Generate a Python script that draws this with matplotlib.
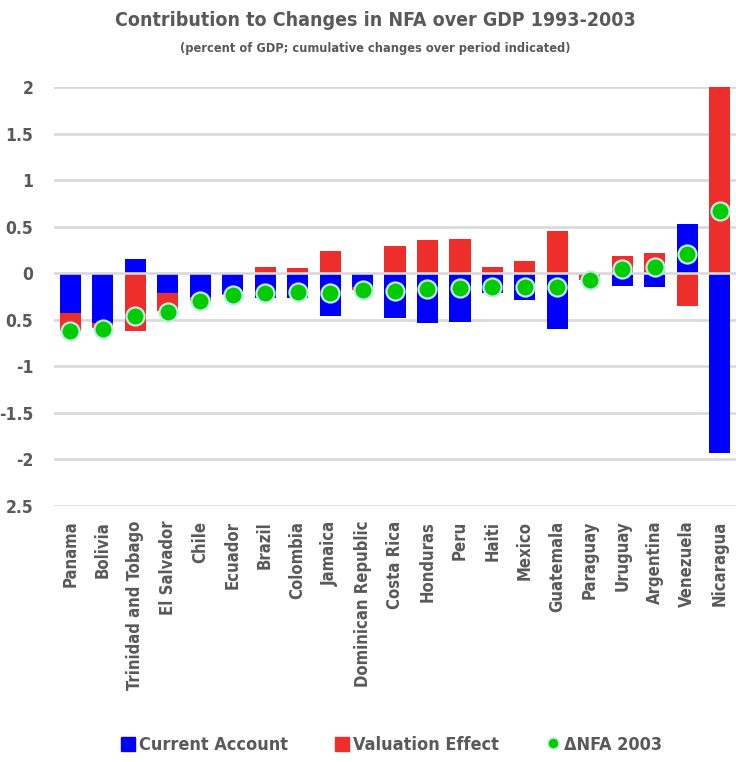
import numpy as np
import matplotlib
matplotlib.use("Agg")
import matplotlib.pyplot as plt
from matplotlib.lines import Line2D
from matplotlib.patches import Patch

plt.rcParams['font.family'] = ['DejaVu Sans']
plt.rcParams['font.stretch'] = 'condensed'

countries = ["Panama", "Bolivia", "Trinidad and Tobago", "El Salvador", "Chile",
             "Ecuador", "Brazil", "Colombia", "Jamaica", "Dominican Republic",
             "Costa Rica", "Honduras", "Peru", "Haiti", "Mexico", "Guatemala",
             "Paraguay", "Uruguay", "Argentina", "Venezuela", "Nicaragua"]
current_account = [-0.43, -0.54, 0.15, -0.21, -0.26, -0.23, -0.27, -0.27, -0.46, -0.15,
                   -0.48, -0.54, -0.53, -0.21, -0.29, -0.60, 0.0, -0.135, -0.15, 0.53, -1.94]
valuation = [-0.19, -0.05, -0.62, -0.20, -0.04, -0.01, 0.06, 0.05, 0.24, -0.03,
             0.29, 0.36, 0.37, 0.07, 0.13, 0.45, -0.08, 0.18, 0.215, -0.35, 2.6]
nfa_change = [-0.62, -0.60, -0.46, -0.42, -0.30, -0.24, -0.21, -0.20, -0.21, -0.18,
              -0.19, -0.17, -0.16, -0.15, -0.15, -0.15, -0.07, 0.04, 0.07, 0.20, 0.67]
ytick_vals = [2, 1.5, 1, 0.5, 0, -0.5, -1, -1.5, -2, -2.5]
ytick_text = ["2", "1.5", "1", "0.5", "0", "0.5", "-1", "-1.5", "-2", "2.5"]

BLUE = "#0000FF"
RED = "#EE2E2A"
GREEN = "#00CC00"
GRAY = "#595959"
GRID = "#D9D9D9"

ca = np.array(current_account)
ve = np.array(valuation)
x = np.arange(len(countries))
# valuation stacks on current account only when both share a sign
ve_bottom = np.where(np.sign(ve) == np.sign(ca), ca, 0.0)

fig = plt.figure(figsize=(7.36, 7.62), dpi=100)
ax = fig.add_axes([0.0734, 0.3366, 0.9266, 0.5492])

for v in ytick_vals:
    if v != 0:
        ax.axhline(v, color=GRID, lw=1.9, zorder=0)

ax.bar(x, ca, width=0.65, color=BLUE, zorder=2, label="Current Account")
ax.bar(x, ve, width=0.65, bottom=ve_bottom, color=RED, zorder=2, label="Valuation Effect")
ax.axhline(0, color=GRID, lw=1.9, zorder=3)
ax.plot(x, nfa_change, 'o', ms=13, mfc=GREEN, mec="#C5E8E8", mew=1.6, zorder=4,
        label="\u0394NFA 2003")

ax.set_xlim(-0.5, len(countries) - 0.5)
ax.set_ylim(-2.5, 2.0)
ax.set_yticks(ytick_vals)
ax.set_yticklabels(ytick_text, fontsize=12.5, fontweight='bold', color=GRAY)
ax.set_xticks(x)
ax.set_xticklabels(countries, rotation=90, fontsize=12, fontweight='bold', color=GRAY)
ax.tick_params(length=0)
ax.tick_params(axis='y', pad=15)
ax.tick_params(axis='x', pad=11)
for s in ax.spines.values():
    s.set_visible(False)

fig.text(0.51, 0.973, "Contribution to Changes in NFA over GDP 1993-2003",
         ha='center', va='center', fontsize=14, fontweight='bold', color=GRAY)
fig.text(0.51, 0.936, "(percent of GDP; cumulative changes over period indicated)",
         ha='center', va='center', fontsize=9.2, fontweight='bold', color=GRAY)

handles = [Patch(color=BLUE), Patch(color=RED),
           Line2D([], [], marker='o', ls='', ms=8, mfc=GREEN, mec="#C5E8E8", mew=1.2)]
fig.legend(handles, ["Current Account", "Valuation Effect", "\u0394NFA 2003"],
           loc='center', bbox_to_anchor=(0.532, 0.022), ncol=3, frameon=False,
           prop={'size': 13, 'weight': 'bold', 'stretch': 'condensed'}, labelcolor=GRAY,
           handlelength=0.75, handleheight=0.9, handletextpad=0.25, columnspacing=2.6)

fig.savefig("out.png", dpi=100)
